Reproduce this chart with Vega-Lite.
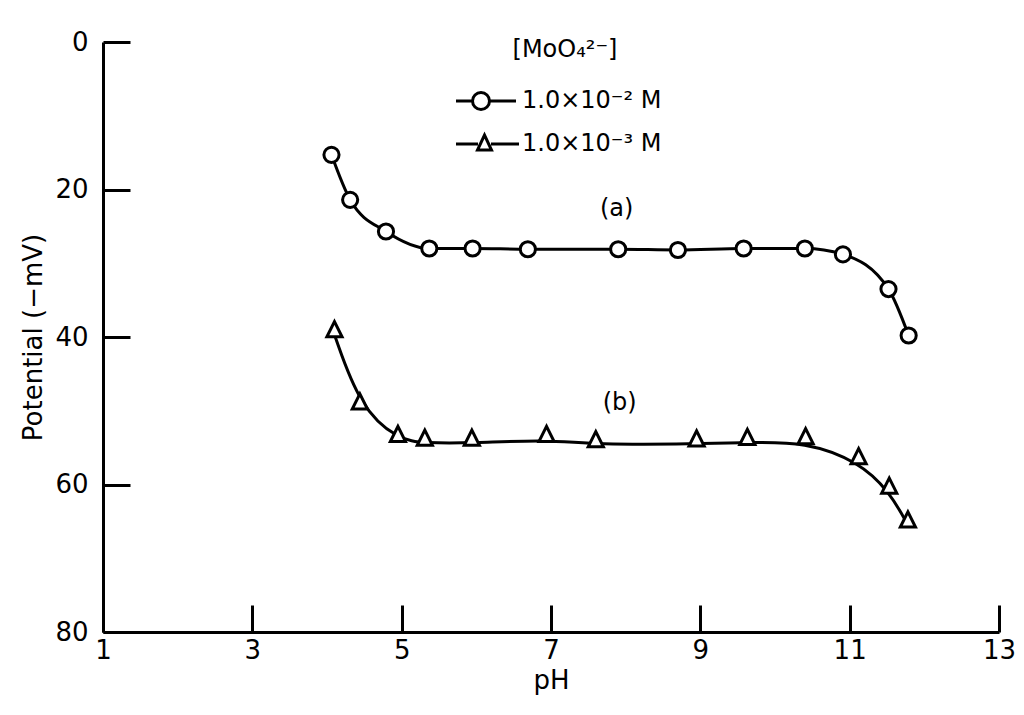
{
  "$schema": "https://vega.github.io/schema/vega-lite/v6.json",
  "width": 896,
  "height": 590,
  "autosize": {"type": "none"},
  "padding": {"left": 103, "top": 42, "right": 25, "bottom": 83},
  "background": "white",
  "config": {
    "view": {"stroke": null},
    "font": "DejaVu Sans",
    "axis": {
      "grid": false,
      "domainColor": "black",
      "domainWidth": 3,
      "tickColor": "black",
      "tickWidth": 3,
      "tickSize": -27,
      "labelColor": "black",
      "labelFontSize": 26,
      "labelFont": "DejaVu Sans",
      "labelFlush": false,
      "labelOverlap": false,
      "titleColor": "black",
      "titleFont": "DejaVu Sans",
      "titleFontSize": 26,
      "titleFontWeight": "normal"
    }
  },
  "data": {
    "values": [
      {"series": "1.0×10⁻² M", "pH": 4.06, "mV": 15.3},
      {"series": "1.0×10⁻² M", "pH": 4.31, "mV": 21.4},
      {"series": "1.0×10⁻² M", "pH": 4.79, "mV": 25.7},
      {"series": "1.0×10⁻² M", "pH": 5.37, "mV": 28.0},
      {"series": "1.0×10⁻² M", "pH": 5.95, "mV": 28.0},
      {"series": "1.0×10⁻² M", "pH": 6.69, "mV": 28.1},
      {"series": "1.0×10⁻² M", "pH": 7.90, "mV": 28.1},
      {"series": "1.0×10⁻² M", "pH": 8.70, "mV": 28.2},
      {"series": "1.0×10⁻² M", "pH": 9.58, "mV": 28.0},
      {"series": "1.0×10⁻² M", "pH": 10.40, "mV": 28.0},
      {"series": "1.0×10⁻² M", "pH": 10.91, "mV": 28.8},
      {"series": "1.0×10⁻² M", "pH": 11.52, "mV": 33.5},
      {"series": "1.0×10⁻² M", "pH": 11.79, "mV": 39.8},
      {"series": "1.0×10⁻³ M", "pH": 4.10, "mV": 39.7},
      {"series": "1.0×10⁻³ M", "pH": 4.44, "mV": 49.5},
      {"series": "1.0×10⁻³ M", "pH": 4.95, "mV": 53.9},
      {"series": "1.0×10⁻³ M", "pH": 5.31, "mV": 54.4},
      {"series": "1.0×10⁻³ M", "pH": 5.94, "mV": 54.4},
      {"series": "1.0×10⁻³ M", "pH": 6.94, "mV": 53.9},
      {"series": "1.0×10⁻³ M", "pH": 7.60, "mV": 54.6},
      {"series": "1.0×10⁻³ M", "pH": 8.95, "mV": 54.5},
      {"series": "1.0×10⁻³ M", "pH": 9.63, "mV": 54.3},
      {"series": "1.0×10⁻³ M", "pH": 10.41, "mV": 54.2},
      {"series": "1.0×10⁻³ M", "pH": 11.12, "mV": 56.9},
      {"series": "1.0×10⁻³ M", "pH": 11.53, "mV": 60.9},
      {"series": "1.0×10⁻³ M", "pH": 11.78, "mV": 65.5}
    ]
  },
  "encoding": {
    "x": {
      "field": "pH",
      "type": "quantitative",
      "scale": {"domain": [1, 13], "nice": false, "zero": false},
      "axis": {
        "values": [1, 3, 5, 7, 9, 11, 13],
        "format": "d",
        "title": "pH",
        "labelPadding": 32,
        "titlePadding": 4
      }
    },
    "y": {
      "field": "mV",
      "type": "quantitative",
      "scale": {"domain": [0, 80], "reverse": true, "nice": false, "zero": false},
      "axis": {
        "values": [0, 20, 40, 60, 80],
        "format": "d",
        "title": "Potential (−mV)",
        "labelPadding": 42,
        "titlePadding": 8
      }
    }
  },
  "layer": [
    {
      "transform": [{"filter": "datum.series === '1.0×10⁻² M'"}],
      "mark": {"type": "line", "interpolate": "monotone", "color": "black", "strokeWidth": 3}
    },
    {
      "transform": [{"filter": "datum.series === '1.0×10⁻³ M'"}],
      "mark": {"type": "line", "interpolate": "basis", "color": "black", "strokeWidth": 3}
    },
    {
      "transform": [{"filter": "datum.series === '1.0×10⁻² M'"}],
      "mark": {"type": "point", "shape": "circle", "filled": false, "color": "black", "fill": "white", "fillOpacity": 1, "strokeWidth": 3, "size": 230, "opacity": 1}
    },
    {
      "transform": [{"filter": "datum.series === '1.0×10⁻³ M'"}],
      "mark": {"type": "point", "shape": "M-1,0.27L1,0.27L0,-1.73Z", "filled": false, "color": "black", "fill": "white", "fillOpacity": 1, "strokeWidth": 3, "size": 230, "opacity": 1}
    },
    {
      "mark": {"type": "point", "filled": false, "color": "black", "fill": "white", "fillOpacity": 1, "strokeWidth": 3, "size": 400, "opacity": 0},
      "encoding": {
        "shape": {
          "field": "series",
          "type": "nominal",
          "scale": {
            "domain": ["1.0×10⁻² M", "1.0×10⁻³ M"],
            "range": [
              "M-2.5,0L-0.85,0M0.85,0L3.5,0M-0.85,0A0.85,0.85 0 1,0 0.85,0A0.85,0.85 0 1,0 -0.85,0Z",
              "M-2.5,0L-0.3,0M1,0L3.8,0M-0.35,0.6L1.05,0.6L0.35,-0.9Z"
            ]
          },
          "legend": {
            "orient": "none",
            "legendX": 366,
            "legendY": -4,
            "title": "[MoO₄²⁻]",
            "titleFont": "DejaVu Sans",
            "titleFontSize": 24,
            "titleFontWeight": "normal",
            "titleColor": "black",
            "titleAnchor": "middle",
            "titlePadding": 27,
            "labelFont": "DejaVu Sans",
            "labelFontSize": 24,
            "labelColor": "black",
            "labelOffset": 29,
            "rowPadding": 13,
            "symbolSize": 400,
            "symbolStrokeWidth": 3,
            "symbolOpacity": 1
          }
        }
      }
    },
    {
      "data": {
        "values": [
          {"pH": 7.88, "mV": 22.6, "label": "(a)"},
          {"pH": 7.92, "mV": 49.0, "label": "(b)"}
        ]
      },
      "mark": {"type": "text", "font": "DejaVu Sans", "fontSize": 24, "color": "black", "baseline": "middle", "align": "center"},
      "encoding": {"text": {"field": "label"}}
    }
  ]
}
